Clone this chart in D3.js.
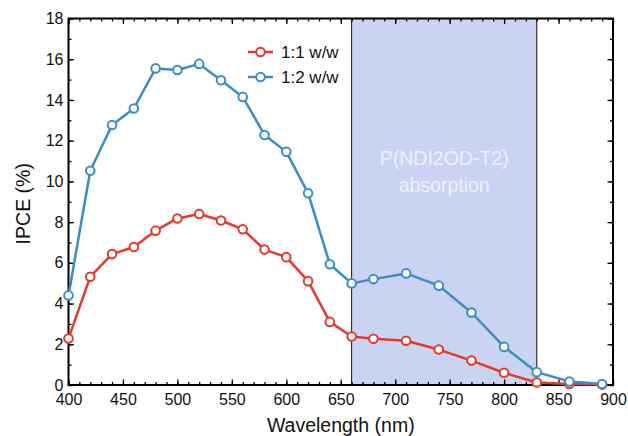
<!DOCTYPE html>
<html>
<head>
<meta charset="utf-8">
<script src="https://cdn.jsdelivr.net/npm/d3@7"></script>
<style>
  body { margin: 0; background: #fff; }
  svg { display: block; font-family: "Liberation Sans", Arial, Helvetica, sans-serif; }
  .axis path { display: none; }
  .axis line { stroke: #000; stroke-width: 1.3; }
  .axis text { font-size: 16px; fill: #111; }
</style>
</head>
<body>
<svg id="chart" width="628" height="436"></svg>
<script>
"use strict";
// data
var wavelengths = [400, 420, 440, 460, 480, 500, 520, 540, 560, 580, 600, 620, 640, 660, 680, 710, 740, 770, 800, 830, 860, 890];
var ipce11 = [2.28, 5.32, 6.43, 6.78, 7.58, 8.18, 8.4, 8.08, 7.65, 6.65, 6.28, 5.1, 3.1, 2.38, 2.27, 2.17, 1.74, 1.2, 0.6, 0.12, 0.05, 0.02];
var ipce12 = [4.4, 10.52, 12.77, 13.58, 15.55, 15.47, 15.77, 14.97, 14.15, 12.28, 11.45, 9.42, 5.93, 4.99, 5.2, 5.48, 4.88, 3.56, 1.87, 0.63, 0.17, 0.05];
var seriesNames = ["1:1 w/w", "1:2 w/w"];
var seriesColors = ["#e8382c", "#3c8dc6"];
var band = [660, 830];
var bandLabel = ["P(NDI2OD-T2)", "absorption"];
var xTicks = [400, 450, 500, 550, 600, 650, 700, 750, 800, 850, 900];
var yTicks = [0, 2, 4, 6, 8, 10, 12, 14, 16, 18];

var svg = d3.select("#chart");
var pl = 68.5, pr = 613, pt = 18.5, pb = 385;

var x = d3.scaleLinear().domain([400, 900]).range([pl, pr]);
var y = d3.scaleLinear().domain([0, 18]).range([pb, pt]);

// absorption band
svg.append("rect")
  .attr("x", x(band[0])).attr("y", pt)
  .attr("width", x(band[1]) - x(band[0])).attr("height", pb - pt)
  .attr("fill", "#cad4f2");
band.forEach(function (b) {
  svg.append("line")
    .attr("x1", x(b)).attr("x2", x(b)).attr("y1", pt).attr("y2", pb)
    .attr("stroke", "#111").attr("stroke-width", 1);
});
svg.append("text")
  .attr("x", x(745)).attr("y", 165)
  .attr("text-anchor", "middle").attr("font-size", 19.5).attr("fill", "#eef1fb")
  .text(bandLabel[0]);
svg.append("text")
  .attr("x", x(745)).attr("y", 192)
  .attr("text-anchor", "middle").attr("font-size", 19.5).attr("fill", "#eef1fb")
  .text(bandLabel[1]);

// axes, ticks pointing inward
var minorX = d3.range(400, 901, 10), minorY = d3.range(0, 19, 1);

svg.append("g").attr("class", "axis").attr("transform", "translate(0," + pb + ")")
  .call(d3.axisBottom(x).tickValues(minorX).tickSize(-3).tickFormat(""));
svg.append("g").attr("class", "axis").attr("transform", "translate(0," + pb + ")")
  .call(d3.axisBottom(x).tickValues(xTicks).tickSize(-5.5).tickPadding(9).tickFormat(d3.format("d")));
svg.append("g").attr("class", "axis").attr("transform", "translate(0," + pt + ")")
  .call(d3.axisTop(x).tickValues(minorX).tickSize(-3).tickFormat(""));
svg.append("g").attr("class", "axis").attr("transform", "translate(0," + pt + ")")
  .call(d3.axisTop(x).tickValues(xTicks).tickSize(-5.5).tickFormat(""));

svg.append("g").attr("class", "axis").attr("transform", "translate(" + pl + ",0)")
  .call(d3.axisLeft(y).tickValues(minorY).tickSize(-3).tickFormat(""));
svg.append("g").attr("class", "axis").attr("transform", "translate(" + pl + ",0)")
  .call(d3.axisLeft(y).tickValues(yTicks).tickSize(-5.5).tickPadding(5).tickFormat(d3.format("d")));
svg.append("g").attr("class", "axis").attr("transform", "translate(" + pr + ",0)")
  .call(d3.axisRight(y).tickValues(minorY).tickSize(-3).tickFormat(""));
svg.append("g").attr("class", "axis").attr("transform", "translate(" + pr + ",0)")
  .call(d3.axisRight(y).tickValues(yTicks).tickSize(-5.5).tickFormat(""));

svg.append("rect")
  .attr("x", pl).attr("y", pt).attr("width", pr - pl).attr("height", pb - pt)
  .attr("fill", "none").attr("stroke", "#000").attr("stroke-width", 2);

// axis titles
svg.append("text")
  .attr("x", (pl + pr) / 2).attr("y", 432)
  .attr("text-anchor", "middle").attr("font-size", 19.5).attr("fill", "#111")
  .text("Wavelength (nm)");
svg.append("text")
  .attr("transform", "translate(30," + ((pt + pb) / 2 + 2) + ") rotate(-90)")
  .attr("text-anchor", "middle").attr("font-size", 19.5).attr("fill", "#111")
  .text("IPCE (%)");

// series
var line = d3.line().x(function (d) { return x(d[0]); }).y(function (d) { return y(d[1]); });
[ipce11, ipce12].forEach(function (vals, i) {
  var pts = wavelengths.map(function (w, j) { return [w, vals[j]]; });
  svg.append("path").datum(pts)
    .attr("d", line).attr("fill", "none")
    .attr("stroke", seriesColors[i]).attr("stroke-width", 2.5).attr("stroke-linejoin", "round");
  svg.append("g").selectAll("circle").data(pts).enter().append("circle")
    .attr("cx", function (d) { return x(d[0]); })
    .attr("cy", function (d) { return y(d[1]); })
    .attr("r", 4.3).attr("fill", "#fff")
    .attr("stroke", seriesColors[i]).attr("stroke-width", 2);
});

// legend
seriesNames.forEach(function (name, i) {
  var ly = 52 + i * 25;
  svg.append("line").attr("x1", 248).attr("x2", 273).attr("y1", ly).attr("y2", ly)
    .attr("stroke", seriesColors[i]).attr("stroke-width", 2.5);
  svg.append("circle").attr("cx", 260.5).attr("cy", ly).attr("r", 4.3)
    .attr("fill", "#fff").attr("stroke", seriesColors[i]).attr("stroke-width", 2);
  svg.append("text").attr("x", 281).attr("y", ly + 6)
    .attr("font-size", 17).attr("fill", "#111").text(name);
});
</script>
</body>
</html>
